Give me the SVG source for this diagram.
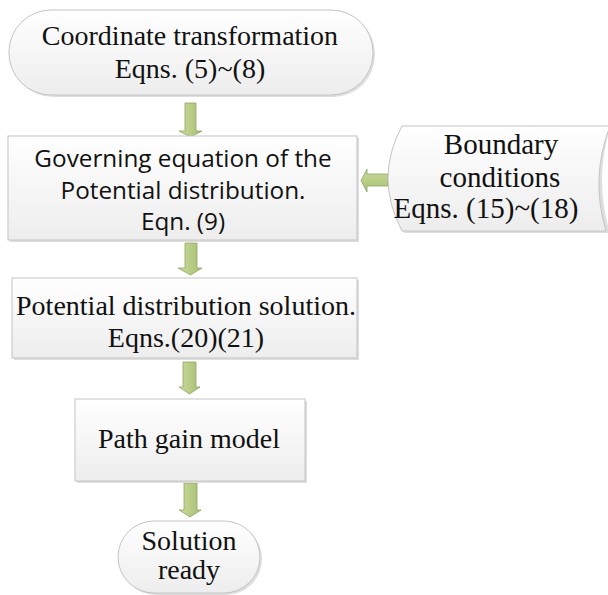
<svg xmlns="http://www.w3.org/2000/svg" width="608" height="595" viewBox="0 0 608 595">
<defs>
<linearGradient id="gBox" x1="0" y1="0" x2="0" y2="1">
<stop offset="0" stop-color="#ffffff"/>
<stop offset="1" stop-color="#ededed"/>
</linearGradient>
<linearGradient id="gArrV" x1="0" y1="0" x2="1" y2="0">
<stop offset="0" stop-color="#c9da9f"/>
<stop offset="0.5" stop-color="#b9cd87"/>
<stop offset="1" stop-color="#a6bd73"/>
</linearGradient>
<linearGradient id="gArrH" x1="0" y1="0" x2="0" y2="1">
<stop offset="0" stop-color="#c9da9f"/>
<stop offset="0.5" stop-color="#b9cd87"/>
<stop offset="1" stop-color="#a6bd73"/>
</linearGradient>
</defs>
<style>
.shape{fill:url(#gBox);stroke:#c4c4c4;stroke-width:1}
.shadow{fill:#dedede;stroke:none}
.serif{font-family:"Liberation Serif","Times New Roman",serif;font-size:28px;fill:#111;text-anchor:middle}
.sans{font-family:"Open Sans","Noto Sans",sans-serif;font-size:24.3px;fill:#111;text-anchor:middle}
.big{font-size:29px}
.arr{stroke:#8fa663;stroke-width:0.8}
</style>
<rect width="608" height="595" fill="#ffffff"/>
<g id="connectors">
<path class="arr" fill="url(#gArrV)" d="M185,103 H196 V131 H202 L190.5,137 L179,131 H185 Z"/>
<path class="arr" fill="url(#gArrV)" d="M185,243 H197 V268 H202 L190.5,275 L178,268 H185 Z"/>
<path class="arr" fill="url(#gArrV)" d="M183,362 H196 V387 H200 L189.5,394 L179,387 H183 Z"/>
<path class="arr" fill="url(#gArrV)" d="M184,483 H197 V510 H201 L190,517 L179,510 H184 Z"/>
<path class="arr" fill="url(#gArrH)" d="M388,174 V186 H367 V192 L361,180.5 L367,169 V174 Z"/>
</g>
<g id="n1">
<rect class="shadow" x="11" y="12" width="364" height="85" rx="42"/>
<rect class="shape" x="9" y="10" width="364" height="85" rx="42"/>
<text class="serif" x="190" y="45">Coordinate transformation</text>
<text class="serif" x="190" y="78">Eqns. (5)~(8)</text>
</g>
<g id="n2">
<rect class="shadow" x="10" y="138" width="349" height="104"/>
<rect class="shape" x="8" y="136" width="349" height="104"/>
<text class="sans" x="183" y="167">Governing equation of the</text>
<text class="sans" x="183" y="199">Potential distribution.</text>
<text class="sans" x="183" y="230">Eqn. (9)</text>
</g>
<g id="n3">
<path class="shadow" d="M404,128 H610 Q594,180 610,233 H404 Q376,180 404,128 Z"/>
<path class="shape" d="M402,126 H610 Q590,178 606,231 H402 Q374,178 402,126 Z"/>
<text class="serif big" x="501" y="154">Boundary</text>
<text class="serif big" x="500" y="187">conditions</text>
<text class="serif big" x="486" y="218">Eqns. (15)~(18)</text>
</g>
<g id="n4">
<rect class="shadow" x="14" y="280" width="345" height="80"/>
<rect class="shape" x="12" y="278" width="345" height="80"/>
<text class="serif" x="186" y="315">Potential distribution solution.</text>
<text class="serif" x="186" y="347">Eqns.(20)(21)</text>
</g>
<g id="n5">
<rect class="shadow" x="77" y="401" width="230" height="82"/>
<rect class="shape" x="75" y="399" width="230" height="82"/>
<text class="serif" x="189" y="448">Path gain model</text>
</g>
<g id="n6">
<rect class="shadow" x="120" y="523" width="142" height="72" rx="36"/>
<rect class="shape" x="118" y="521" width="142" height="72" rx="36"/>
<text class="serif" x="189" y="550">Solution</text>
<text class="serif" x="189" y="579">ready</text>
</g>
</svg>
